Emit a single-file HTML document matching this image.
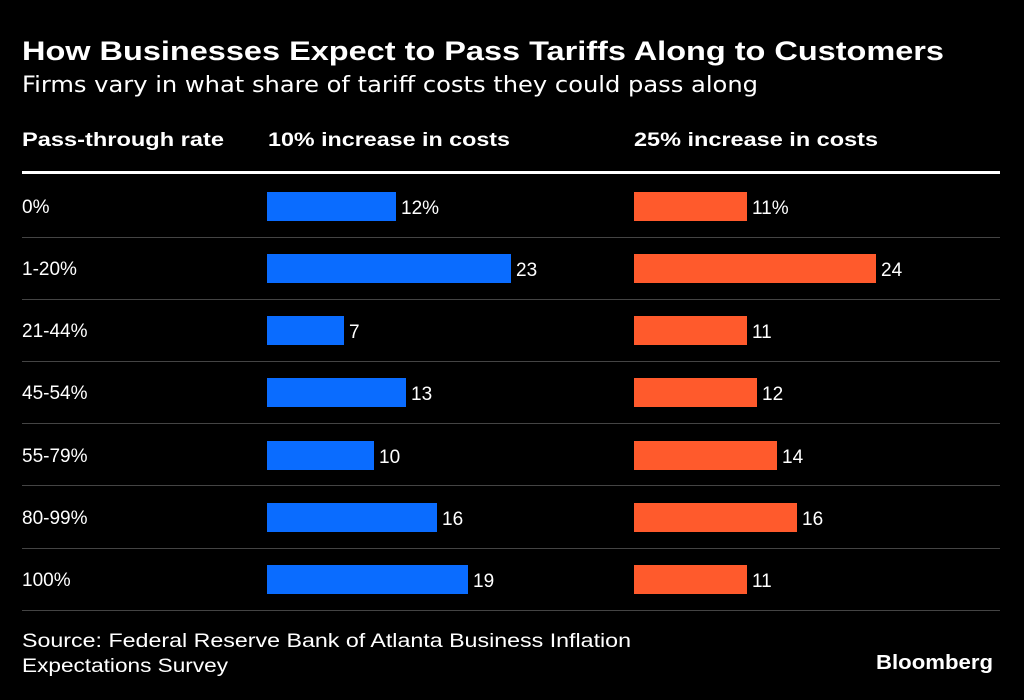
<!DOCTYPE html>
<html><head><meta charset="utf-8"><style>
html,body{margin:0;padding:0;background:#000;}
svg{display:block}
text{font-family:"Liberation Sans",sans-serif;fill:#fff}
</style></head><body>
<svg width="1024" height="700" viewBox="0 0 1024 700" xmlns="http://www.w3.org/2000/svg">
<rect width="1024" height="700" fill="#000"/>
<text x="22" y="60" font-size="27" font-weight="bold" textLength="922" lengthAdjust="spacingAndGlyphs">How Businesses Expect to Pass Tariffs Along to Customers</text>
<text x="22" y="92" font-size="22" fill="#e6e6e6" textLength="736" lengthAdjust="spacingAndGlyphs" style="font-family:'DejaVu Sans',sans-serif">Firms vary in what share of tariff costs they could pass along</text>
<text x="22" y="146" font-size="19" font-weight="bold" textLength="202" lengthAdjust="spacingAndGlyphs">Pass-through rate</text>
<text x="268" y="146" font-size="19" font-weight="bold" textLength="242" lengthAdjust="spacingAndGlyphs">10% increase in costs</text>
<text x="634" y="146" font-size="19" font-weight="bold" textLength="244" lengthAdjust="spacingAndGlyphs">25% increase in costs</text>
<rect x="22" y="171" width="978" height="3" fill="#fff"/>
<g fill="#444">
<rect x="22" y="237" width="978" height="1"/>
<rect x="22" y="299" width="978" height="1"/>
<rect x="22" y="361" width="978" height="1"/>
<rect x="22" y="423" width="978" height="1"/>
<rect x="22" y="485" width="978" height="1"/>
<rect x="22" y="548" width="978" height="1"/>
<rect x="22" y="610" width="978" height="1"/>
</g>
<g font-size="19">
<text x="22" y="213">0%</text>
<text x="22" y="275">1-20%</text>
<text x="22" y="337">21-44%</text>
<text x="22" y="399">45-54%</text>
<text x="22" y="462">55-79%</text>
<text x="22" y="524">80-99%</text>
<text x="22" y="586">100%</text>
</g>
<g fill="#0a6cff">
<rect x="267" y="192" width="129" height="29"/>
<rect x="267" y="254" width="244" height="29"/>
<rect x="267" y="316" width="77" height="29"/>
<rect x="267" y="378" width="139" height="29"/>
<rect x="267" y="441" width="107" height="29"/>
<rect x="267" y="503" width="170" height="29"/>
<rect x="267" y="565" width="201" height="29"/>
</g>
<g fill="#ff5a2c">
<rect x="634" y="192" width="113" height="29"/>
<rect x="634" y="254" width="242" height="29"/>
<rect x="634" y="316" width="113" height="29"/>
<rect x="634" y="378" width="123" height="29"/>
<rect x="634" y="441" width="143" height="29"/>
<rect x="634" y="503" width="163" height="29"/>
<rect x="634" y="565" width="113" height="29"/>
</g>
<g font-size="19">
<text x="401" y="214">12%</text>
<text x="516" y="276">23</text>
<text x="349" y="338">7</text>
<text x="411" y="400">13</text>
<text x="379" y="463">10</text>
<text x="442" y="525">16</text>
<text x="473" y="587">19</text>
<text x="752" y="214">11%</text>
<text x="881" y="276">24</text>
<text x="752" y="338">11</text>
<text x="762" y="400">12</text>
<text x="782" y="463">14</text>
<text x="802" y="525">16</text>
<text x="752" y="587">11</text>
</g>
<g font-size="19" fill="#bbb" style="font-family:'DejaVu Sans',sans-serif">
<text x="22" y="647" fill="#bbb" textLength="609" lengthAdjust="spacingAndGlyphs">Source: Federal Reserve Bank of Atlanta Business Inflation</text>
<text x="22" y="672" fill="#bbb" textLength="206" lengthAdjust="spacingAndGlyphs">Expectations Survey</text>
</g>
<text x="876" y="669" font-size="20" font-weight="bold" textLength="117" lengthAdjust="spacingAndGlyphs">Bloomberg</text>
</svg>
</body></html>
